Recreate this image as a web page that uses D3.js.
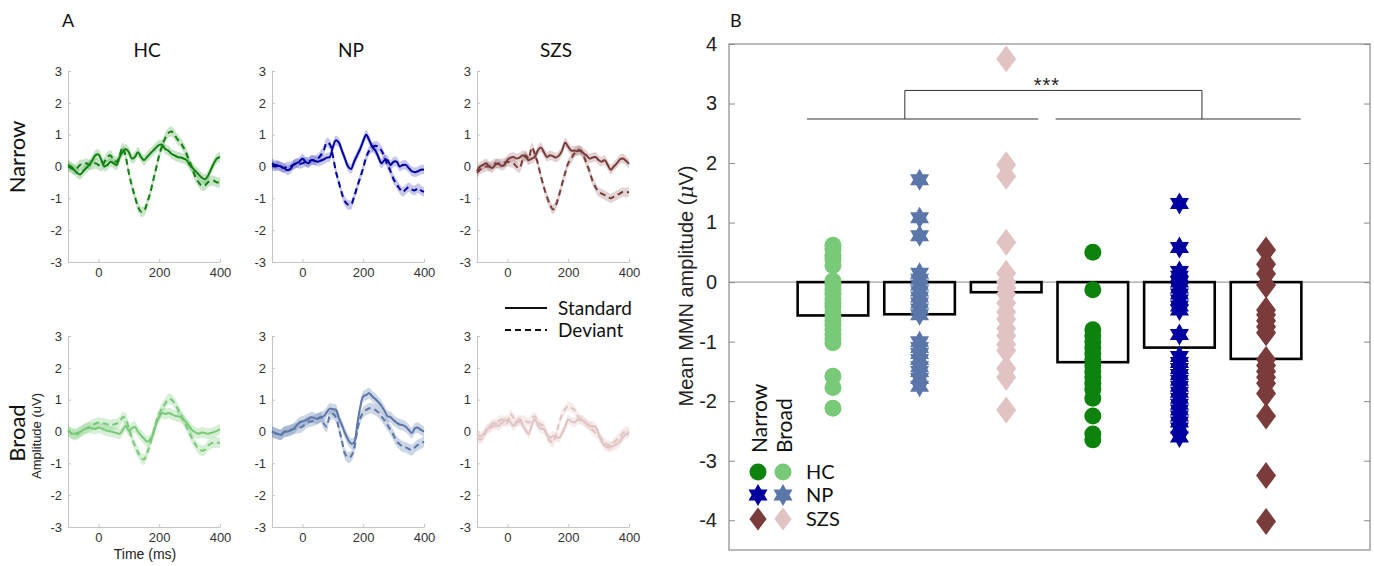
<!DOCTYPE html>
<html>
<head>
<meta charset="utf-8">
<script src="https://cdn.jsdelivr.net/npm/d3@7"></script>
<style>
  body { margin: 0; background: #fff; }
  svg { display: block; }
</style>
</head>
<body>
<svg id="fig" width="1374" height="566"></svg>
<script>
// ---------- data: panel A (ERP waveforms, uV) ----------
const timeMs = [-100, -90, -80, -70, -60, -50, -40, -30, -20, -10, 0, 10, 20, 30, 40, 50, 60, 70, 80, 90,
  100, 110, 120, 130, 140, 150, 160, 170, 180, 190, 200, 210, 220, 230, 240, 250, 260, 270, 280, 290,
  300, 310, 320, 330, 340, 350, 360, 370, 380, 390, 400];

const groups = ['HC', 'NP', 'SZS'];
const conditions = ['Narrow', 'Broad'];
const timeTicks = [0, 200, 400];
const ampTicks = [-3, -2, -1, 0, 1, 2, 3];

const hcNarrowStd = [0.05, 0, -0.1, -0.2, -0.25, -0.15, -0.05, 0.05, 0.2, 0.35, 0.38, 0.2, 0, 0.05, 0.15, 0.1, 0.05, 0.3, 0.45, 0.55,
  0.45, 0.25, 0.3, 0.45, 0.3, 0.2, 0.3, 0.4, 0.5, 0.6, 0.68, 0.68, 0.55, 0.5, 0.4, 0.35, 0.3, 0.28, 0.25, 0.2,
  0.05, -0.05, -0.15, -0.25, -0.35, -0.4, -0.3, -0.1, 0.1, 0.25, 0.3];
const hcNarrowDev = [0, -0.05, -0.1, -0.05, 0.05, 0.05, 0.1, 0.05, 0.05, 0.1, 0.05, 0, 0.15, 0.3, 0.35, 0.2, 0.15, 0.35, 0.6, 0.3,
  -0.2, -0.6, -0.95, -1.25, -1.42, -1.4, -1.15, -0.85, -0.45, -0.05, 0.35, 0.65, 0.9, 1.05, 1.1, 1.0, 0.85, 0.75, 0.6, 0.4,
  0.15, -0.1, -0.35, -0.5, -0.6, -0.6, -0.5, -0.45, -0.45, -0.5, -0.5];
const npNarrowStd = [0.02, 0, 0.02, 0, -0.05, -0.12, -0.08, 0.05, 0.1, 0.15, 0.25, 0.15, 0.1, 0.2, 0.18, 0.15, 0.18, 0.22, 0.28, 0.3,
  0.6, 0.82, 0.75, 0.5, 0.25, 0, -0.08, 0.15, 0.35, 0.55, 0.8, 1.0, 0.82, 0.62, 0.5, 0.3, 0.1, 0.2, 0.2, 0.05,
  0.15, 0.15, 0, 0.05, 0.05, -0.05, -0.15, -0.18, -0.15, -0.1, -0.1];
const npNarrowDev = [0.1, 0.05, 0.05, -0.02, -0.05, 0, 0, 0.05, 0.1, 0.08, 0.1, 0.15, 0.15, 0.2, 0.2, 0.25, 0.35, 0.5, 0.75, 0.7,
  0.35, -0.15, -0.5, -0.85, -1.1, -1.2, -1.2, -0.95, -0.65, -0.35, -0.05, 0.3, 0.5, 0.6, 0.65, 0.62, 0.5, 0.3, 0.05, -0.15,
  -0.4, -0.55, -0.7, -0.8, -0.72, -0.65, -0.72, -0.75, -0.68, -0.75, -0.8];
const szsNarrowStd = [-0.15, 0, 0.05, 0.1, 0, -0.05, 0.05, 0.1, 0.02, 0.05, 0.2, 0.28, 0.3, 0.25, 0.28, 0.35, 0.3, 0.2, 0.25, 0.3,
  0.5, 0.6, 0.45, 0.3, 0.35, 0.32, 0.28, 0.35, 0.5, 0.75, 0.62, 0.5, 0.5, 0.48, 0.5, 0.42, 0.35, 0.25, 0.28, 0.3,
  0.2, 0.15, 0.2, 0.05, -0.1, 0, 0.1, 0.22, 0.25, 0.18, 0.08];
const szsNarrowDev = [-0.2, -0.1, -0.05, 0, 0, 0.05, 0.1, 0.08, 0.1, 0.12, 0.15, 0.12, 0.1, 0, -0.05, 0.2, 0.35, 0.25, 0.6, 0.4,
  0.1, -0.3, -0.65, -0.95, -1.2, -1.35, -1.2, -0.9, -0.55, -0.2, 0.1, 0.25, 0.4, 0.52, 0.5, 0.35, 0.1, -0.15, -0.45, -0.65,
  -0.8, -0.85, -0.9, -0.95, -1.0, -0.95, -0.9, -0.85, -0.8, -0.82, -0.8];
const hcBroadStd = [0.03, -0.05, -0.07, -0.05, -0.02, 0.05, 0.1, 0.12, 0.1, 0.08, 0.12, 0.1, 0.05, 0.02, 0, -0.02, -0.05, -0.07, 0.05, 0.18,
  0.02, 0.1, 0.14, 0, -0.12, -0.22, -0.32, -0.25, -0.1, 0.25, 0.45, 0.58, 0.55, 0.58, 0.55, 0.5, 0.48, 0.45, 0.38, 0.28,
  0.15, 0.03, -0.03, -0.07, -0.03, -0.05, -0.07, -0.05, -0.02, 0.02, 0.08];
const hcBroadDev = [0.05, -0.05, -0.1, -0.1, 0, 0.05, 0.1, 0.15, 0.2, 0.25, 0.28, 0.27, 0.25, 0.22, 0.2, 0.22, 0.25, 0.3, 0.45, 0.4,
  0.1, -0.2, -0.45, -0.65, -0.82, -0.88, -0.68, -0.4, -0.05, 0.3, 0.55, 0.75, 0.88, 1.02, 1.0, 0.9, 0.72, 0.55, 0.35, 0.15,
  -0.05, -0.25, -0.42, -0.55, -0.6, -0.58, -0.45, -0.38, -0.35, -0.35, -0.35];
const npBroadStd = [0, -0.05, -0.08, -0.1, -0.02, 0, 0.03, 0.08, 0.18, 0.28, 0.32, 0.35, 0.4, 0.45, 0.42, 0.4, 0.45, 0.48, 0.6, 0.72,
  0.7, 0.68, 0.42, 0.2, -0.05, -0.25, -0.38, -0.35, 0.2, 0.75, 1.1, 1.15, 1.2, 1.1, 1.02, 0.92, 0.8, 0.65, 0.48, 0.45,
  0.35, 0.28, 0.22, 0.2, 0.15, 0.05, -0.05, 0.1, 0.12, 0.05, 0];
const npBroadDev = [0, -0.05, -0.08, -0.1, 0, 0.02, 0.05, 0.08, 0.1, 0.12, 0.15, 0.25, 0.3, 0.32, 0.35, 0.4, 0.45, 0.25, 0.15, 0.5,
  0.55, 0.45, 0.1, -0.3, -0.7, -0.82, -0.78, -0.55, 0, 0.4, 0.6, 0.68, 0.73, 0.72, 0.68, 0.6, 0.48, 0.35, 0.2, 0.05,
  -0.12, -0.3, -0.4, -0.47, -0.5, -0.55, -0.58, -0.5, -0.42, -0.38, -0.32];
const szsBroadStd = [-0.05, -0.15, -0.1, 0.05, 0.12, 0.25, 0.25, 0.17, 0.25, 0.33, 0.36, 0.3, 0.17, 0.3, 0.38, 0.2, 0.05, -0.08, 0.2, 0.38,
  0.2, 0.08, 0.07, -0.1, -0.2, -0.14, -0.17, -0.2, -0.05, 0.15, 0.38, 0.32, 0.28, 0.36, 0.37, 0.33, 0.25, 0.17, 0.17, 0.15,
  -0.08, -0.3, -0.45, -0.5, -0.48, -0.45, -0.4, -0.32, -0.18, -0.1, -0.03];
const szsBroadDev = [-0.2, -0.25, -0.2, 0.02, 0.1, 0.15, 0.2, 0.32, 0.38, 0.32, 0.28, 0.55, 0.42, 0.3, 0.32, 0.38, 0.33, 0.28, 0.4, 0.48,
  0.32, 0.22, 0.17, -0.15, -0.3, -0.35, -0.1, 0.25, 0.55, 0.7, 0.8, 0.75, 0.68, 0.5, 0.4, 0.33, 0.25, 0.17, 0.05, -0.05,
  -0.13, -0.25, -0.35, -0.42, -0.45, -0.35, -0.25, -0.15, -0.05, 0.02, -0.03];

// shaded error band half-width per panel (HC, NP, SZS narrow; HC, NP, SZS broad)
const bandSem = [0.16, 0.15, 0.15, 0.17, 0.17, 0.15];

// ---------- data: panel B (mean MMN amplitude, uV) ----------
const barGroups = ['HC Broad', 'NP Broad', 'SZS Broad', 'HC Narrow', 'NP Narrow', 'SZS Narrow'];
const barMeans = [-0.56, -0.54, -0.17, -1.345, -1.10, -1.29];
const hcBroadPts = [0.62, 0.55, 0.45, 0.38, 0.28, 0.02, -0.05, -0.12, -0.2, -0.28, -0.35, -0.42, -0.5, -0.58, -0.65, -0.72, -0.8, -0.88, -0.95, -1.02, -1.58, -1.77, -2.12];
const npBroadPts = [1.72, 1.08, 0.78, 0.15, 0.05, -0.05, -0.15, -0.25, -0.35, -0.45, -0.55, -1.0, -1.1, -1.2, -1.3, -1.42, -1.5, -1.62, -1.75];
const szsBroadPts = [3.75, 1.97, 1.78, 0.67, 0.15, 0.0, -0.1, -0.2, -0.35, -0.5, -0.62, -0.78, -0.9, -1.05, -1.15, -1.45, -1.6, -2.15];
const hcNarrowPts = [0.5, -0.13, -0.8, -0.9, -1.0, -1.1, -1.2, -1.3, -1.4, -1.5, -1.6, -1.7, -1.8, -1.95, -2.25, -2.55, -2.65];
const npNarrowPts = [1.32, 0.58, 0.18, 0.1, 0.0, -0.1, -0.2, -0.3, -0.4, -0.47, -0.88, -1.25, -1.35, -1.45, -1.55, -1.65, -1.75, -1.85, -1.95, -2.05, -2.15, -2.25, -2.35, -2.45, -2.6];
const szsNarrowPts = [0.54, 0.3, 0.14, -0.05, -0.47, -0.55, -0.65, -0.75, -0.85, -1.3, -1.4, -1.5, -1.6, -1.7, -1.87, -2.25, -3.25, -4.02];
const mmnTicks = [-4, -3, -2, -1, 0, 1, 2, 3, 4];
// significance bracket (x in bar units, y in uV)
const bracketLow = [[0.7, 3.37], [3.57, 6.4]];
const bracketLowY = 2.74;
const bracketTop = [1.83, 5.26];
const bracketTopY = 3.22;

// ---------- colours ----------
const narrowColor = { HC: '#0d830d', NP: '#0000a0', SZS: '#7a3b3b' };
const broadColor = { HC: '#78c978', NP: '#5b76a8', SZS: '#e2c3c3' };

const svg = d3.select('#fig');
const sans = '"Liberation Sans", Arial, sans-serif';
const label = 'Lato, "Open Sans", sans-serif';
const plainNum = d => String(d); // hyphen minus like the original

// ---------- panel A ----------
const panW = 152, panH = 191;
const colLeft = [68, 272, 477];
const rowTop = [71, 336];
const tx = d3.scaleLinear().domain([-100, 400]).range([0, panW]);
const ty = d3.scaleLinear().domain([-3, 3]).range([panH, 0]);

const erp = {
  HC: { Narrow: [hcNarrowStd, hcNarrowDev], Broad: [hcBroadStd, hcBroadDev] },
  NP: { Narrow: [npNarrowStd, npNarrowDev], Broad: [npBroadStd, npBroadDev] },
  SZS: { Narrow: [szsNarrowStd, szsNarrowDev], Broad: [szsBroadStd, szsBroadDev] }
};

conditions.forEach((cond, ri) => {
  groups.forEach((grp, ci) => {
    const g = svg.append('g').attr('transform', `translate(${colLeft[ci]},${rowTop[ri]})`);
    const col = cond === 'Narrow' ? narrowColor[grp] : broadColor[grp];
    const sem = bandSem[ri * 3 + ci];

    const yAxis = g.append('g')
      .call(d3.axisLeft(ty).tickValues(ampTicks).tickFormat(plainNum)
        .tickSizeInner(-3).tickSizeOuter(0).tickPadding(6));
    const xAxis = g.append('g').attr('transform', `translate(0,${panH})`)
      .call(d3.axisBottom(tx).tickValues(timeTicks).tickFormat(plainNum)
        .tickSizeInner(-3).tickSizeOuter(0).tickPadding(6));
    [yAxis, xAxis].forEach(a => {
      a.select('.domain').attr('stroke', '#c4c4c4');
      a.selectAll('.tick line').attr('stroke', '#c4c4c4');
      a.selectAll('text').attr('fill', '#333').style('font-family', sans).style('font-size', '13px');
    });

    erp[grp][cond].forEach(vals => {
      const pts = timeMs.map((t, i) => ({ t, v: vals[i] }));
      const area = d3.area()
        .x(d => tx(d.t)).y0(d => ty(d.v - sem)).y1(d => ty(d.v + sem))
        .curve(d3.curveCatmullRom);
      g.append('path').attr('d', area(pts))
        .attr('fill', col).attr('opacity', cond === 'Narrow' ? 0.22 : 0.3);
    });
    erp[grp][cond].forEach((vals, k) => {
      const pts = timeMs.map((t, i) => ({ t, v: vals[i] }));
      const line = d3.line().x(d => tx(d.t)).y(d => ty(d.v)).curve(d3.curveCatmullRom);
      g.append('path').attr('d', line(pts))
        .attr('fill', 'none').attr('stroke', col).attr('stroke-width', 2)
        .attr('stroke-dasharray', k === 1 ? '6,4' : null);
    });

    if (ri === 0) {
      g.append('text').attr('x', panW / 2 + 3).attr('y', -14)
        .attr('text-anchor', 'middle').style('font-family', label).style('font-size', '19px')
        .attr('fill', '#111').text(grp);
    }
  });
});

svg.append('text').attr('x', 62).attr('y', 27).style('font-family', label)
  .style('font-size', '18px').attr('fill', '#111').text('A');
svg.append('text').attr('transform', 'translate(25,157) rotate(-90)').attr('text-anchor', 'middle')
  .style('font-family', label).style('font-size', '22px').attr('fill', '#111').text('Narrow');
svg.append('text').attr('transform', 'translate(25,433) rotate(-90)').attr('text-anchor', 'middle')
  .style('font-family', label).style('font-size', '22px').attr('fill', '#111').text('Broad');
svg.append('text').attr('transform', 'translate(41,436) rotate(-90)').attr('text-anchor', 'middle')
  .style('font-family', sans).style('font-size', '13px').attr('fill', '#222').text('Amplitude (uV)');
svg.append('text').attr('x', 145).attr('y', 559).attr('text-anchor', 'middle')
  .style('font-family', sans).style('font-size', '14px').attr('fill', '#222').text('Time (ms)');

// line-style legend
const lineLegend = [['Standard', null, 308], ['Deviant', '6,4', 330]];
lineLegend.forEach(([name, dash, yy]) => {
  svg.append('line').attr('x1', 505).attr('x2', 547).attr('y1', yy).attr('y2', yy)
    .attr('stroke', '#111').attr('stroke-width', 2).attr('stroke-dasharray', dash);
  svg.append('text').attr('x', 558).attr('y', yy + 7).style('font-family', label)
    .style('font-size', '19px').attr('fill', '#111').text(name);
});

// ---------- panel B ----------
const bL = 729, bR = 1370, bT = 44, bB = 550;
const bx = d3.scaleLinear().domain([-0.2, 7.2]).range([bL, bR]);
const by = d3.scaleLinear().domain([-4.5, 4]).range([bB, bT]);

const hexagram = {
  draw(ctx, size) {
    const R = Math.sqrt(size), r = R / Math.sqrt(3);
    for (let i = 0; i < 12; i++) {
      const a = -Math.PI / 2 + i * Math.PI / 6, rad = i % 2 === 0 ? R : r;
      if (i) ctx.lineTo(rad * Math.cos(a), rad * Math.sin(a)); else ctx.moveTo(rad * Math.cos(a), rad * Math.sin(a));
    }
    ctx.closePath();
  }
};
const tallDiamond = {
  draw(ctx, size) {
    const h = Math.sqrt(size), w = h * 0.74;
    ctx.moveTo(0, -h); ctx.lineTo(w, 0); ctx.lineTo(0, h); ctx.lineTo(-w, 0); ctx.closePath();
  }
};
const shape = { HC: [d3.symbolCircle, 227], NP: [hexagram, 121], SZS: [tallDiamond, 182] };

const gB = svg.append('g');
// zero line
gB.append('line').attr('x1', bL).attr('x2', bR).attr('y1', by(0)).attr('y2', by(0))
  .attr('stroke', '#8a8a8a').attr('stroke-width', 1);
// box + ticks
gB.append('rect').attr('x', bL).attr('y', bT).attr('width', bR - bL).attr('height', bB - bT)
  .attr('fill', 'none').attr('stroke', '#8a8a8a').attr('stroke-width', 1.2);
const yL = gB.append('g').attr('transform', `translate(${bL},0)`)
  .call(d3.axisLeft(by).tickValues(mmnTicks).tickFormat(plainNum)
    .tickSizeInner(-6).tickSizeOuter(0).tickPadding(12));
const yR = gB.append('g').attr('transform', `translate(${bR},0)`)
  .call(d3.axisRight(by).tickValues(mmnTicks).tickSizeInner(-6).tickSizeOuter(0).tickFormat(''));
[yL, yR].forEach(a => {
  a.select('.domain').remove();
  a.selectAll('.tick line').attr('stroke', '#8a8a8a');
});
yL.selectAll('text').attr('fill', '#222').style('font-family', sans).style('font-size', '20px');

svg.append('text').attr('transform', 'translate(693,286) rotate(-90)').attr('text-anchor', 'middle')
  .style('font-family', sans).style('font-size', '20px').attr('fill', '#222')
  .call(t => {
    t.append('tspan').text('Mean MMN amplitude (');
    t.append('tspan').style('font-style', 'italic').style('font-family', '"DejaVu Serif", serif').text('\u03bc');
    t.append('tspan').text('V)');
  });
svg.append('text').attr('x', 730).attr('y', 27).style('font-family', label)
  .style('font-size', '18px').attr('fill', '#111').text('B');

// significance bracket
bracketLow.forEach(([a, b]) => {
  gB.append('line').attr('x1', bx(a)).attr('x2', bx(b)).attr('y1', by(bracketLowY)).attr('y2', by(bracketLowY))
    .attr('stroke', '#333').attr('stroke-width', 1);
});
gB.append('path')
  .attr('d', `M${bx(bracketTop[0])},${by(bracketLowY)}V${by(bracketTopY)}H${bx(bracketTop[1])}V${by(bracketLowY)}`)
  .attr('fill', 'none').attr('stroke', '#333').attr('stroke-width', 1);
gB.append('text').attr('x', bx(3.47)).attr('y', by(bracketTopY) + 2).attr('text-anchor', 'middle')
  .style('font-family', sans).style('font-size', '20px').style('letter-spacing', '1px')
  .attr('fill', '#222').text('***');

// bars and subject points
const barPts = [hcBroadPts, npBroadPts, szsBroadPts, hcNarrowPts, npNarrowPts, szsNarrowPts];
const barW = 0.815;
barGroups.forEach((name, i) => {
  const [grp, cond] = name.split(' ');
  const pos = i + 1;
  gB.append('rect')
    .attr('x', bx(pos - barW / 2)).attr('width', bx(barW) - bx(0))
    .attr('y', by(0)).attr('height', by(barMeans[i]) - by(0))
    .attr('fill', 'none').attr('stroke', '#000').attr('stroke-width', 2.6);
  const col = cond === 'Narrow' ? narrowColor[grp] : broadColor[grp];
  const sym = d3.symbol().type(shape[grp][0]).size(shape[grp][1]);
  gB.selectAll(null).data(barPts[i]).enter().append('path')
    .attr('d', sym)
    .attr('transform', d => `translate(${bx(pos)},${by(d)})`)
    .attr('fill', col);
});

// marker legend
svg.append('text').attr('transform', 'translate(767,453) rotate(-90)')
  .style('font-family', label).style('font-size', '21px').attr('fill', '#111').text('Narrow');
svg.append('text').attr('transform', 'translate(792,453) rotate(-90)')
  .style('font-family', label).style('font-size', '21px').attr('fill', '#111').text('Broad');
const legendRowY = [472, 495, 519];
const legSize = { HC: 227, NP: 121, SZS: 135 };
groups.forEach((grp, i) => {
  const yy = legendRowY[i];
  [[758, narrowColor[grp]], [783, broadColor[grp]]].forEach(([xx, c]) => {
    svg.append('path').attr('d', d3.symbol().type(shape[grp][0]).size(legSize[grp])())
      .attr('transform', `translate(${xx},${yy})`).attr('fill', c);
  });
  svg.append('text').attr('x', 806).attr('y', yy + 7).style('font-family', label)
    .style('font-size', '20px').attr('fill', '#111').text(grp);
});
</script>
</body>
</html>
